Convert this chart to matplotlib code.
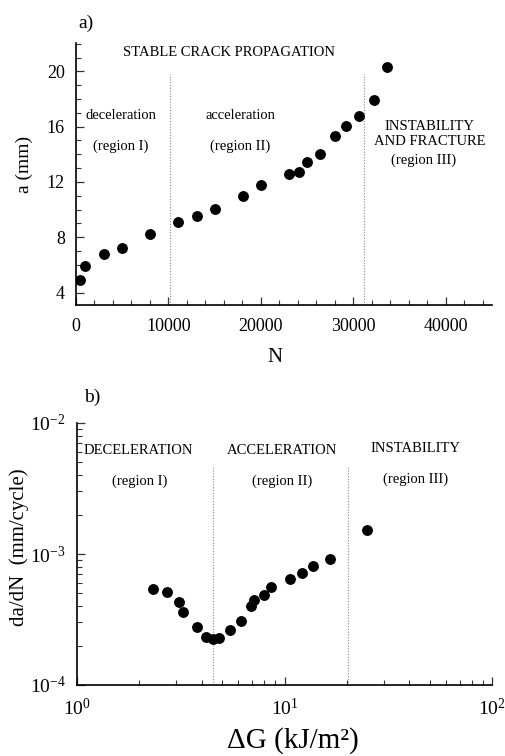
import matplotlib
matplotlib.use("Agg")
import matplotlib.pyplot as plt
from matplotlib.ticker import MultipleLocator, LogLocator, NullFormatter, FixedLocator

plt.rcParams['font.family'] = ['Liberation Serif', 'DejaVu Serif']
plt.rcParams['mathtext.fontset'] = 'custom'
plt.rcParams['mathtext.rm'] = 'Liberation Serif'
plt.rcParams['mathtext.it'] = 'Liberation Serif:italic'

# (a) crack length vs number of cycles
cycles = [435, 980, 3000, 5000, 8000, 11050, 13040, 15040, 18040, 20040,
          23000, 24170, 25000, 26380, 27970, 29170, 30620, 32250, 33660]
crack_len = [4.92, 5.89, 6.79, 7.20, 8.24, 9.07, 9.55, 10.01, 10.98, 11.78,
             12.56, 12.70, 13.45, 13.99, 15.32, 16.07, 16.80, 17.94, 20.32]
bounds_a = [10200, 31200]

# (b) crack growth rate vs energy release rate range
delta_g = [2.32, 2.72, 3.09, 3.25, 3.79, 4.20, 4.51, 4.82, 5.48, 6.17,
           6.92, 7.10, 7.94, 8.65, 10.67, 12.19, 13.7, 16.63, 24.98]
growth_rate = [5.42e-4, 5.16e-4, 4.30e-4, 3.59e-4, 2.79e-4, 2.34e-4, 2.25e-4,
               2.28e-4, 2.65e-4, 3.10e-4, 4.04e-4, 4.46e-4, 4.88e-4, 5.55e-4,
               6.43e-4, 7.10e-4, 8.12e-4, 9.19e-4, 1.52e-3]
bounds_b = [4.5, 20.2]

W, H = 505, 756
fig = plt.figure(figsize=(W / 100, H / 100), dpi=100)

def axes_px(left, top, right, bottom):
    return fig.add_axes([left / W, (H - bottom) / H, (right - left) / W, (bottom - top) / H])

ax1 = axes_px(76, 43, 492, 305)
ax2 = axes_px(77, 423, 492, 685)

for ax in (ax1, ax2):
    ax.spines['top'].set_visible(False)
    ax.spines['right'].set_visible(False)
    ax.spines['left'].set_linewidth(1.2)
    ax.spines['bottom'].set_linewidth(1.2)
    ax.tick_params(which='both', direction='in', color='#333333')
    ax.tick_params(which='major', length=6, width=0.9)
    ax.tick_params(which='minor', length=3.5, width=0.8)

# ---- panel a ----
ax1.plot(cycles, crack_len, 'o', color='black', ms=6.8, zorder=3)
ax1.set_xlim(0, 45000)
ax1.set_ylim(3.1, 22.05)
ax1.xaxis.set_major_locator(FixedLocator([0, 10000, 20000, 30000, 40000]))
ax1.xaxis.set_minor_locator(MultipleLocator(2000))
ax1.yaxis.set_major_locator(FixedLocator([4, 8, 12, 16, 20]))
ax1.yaxis.set_minor_locator(MultipleLocator(1))
ax1.tick_params(axis='x', labelsize=13, pad=9)
ax1.tick_params(axis='y', labelsize=13, pad=8)
for xb in bounds_a:
    ax1.plot([xb, xb], [3.1, 19.8], ls=(0, (1, 1.5)), color='#888888', lw=0.8)

kw = dict(ha='center', va='center', fontsize=10.5)
ax1.text(16560, 21.33, 'STABLE CRACK PROPAGATION', **kw)
ax1.text(4850, 16.8, 'deceleration', **kw)
ax1.text(4850, 14.6, '(region I)', **kw)
ax1.text(17750, 16.8, 'acceleration', **kw)
ax1.text(17750, 14.6, '(region II)', **kw)
ax1.text(38200, 16.0, 'INSTABILITY', **kw)
ax1.text(38250, 14.9, 'AND FRACTURE', **kw)
ax1.text(37600, 13.55, '(region III)', **kw)

fig.text(86 / W, 1 - 23 / H, 'a)', ha='center', va='center', fontsize=14)
fig.text(24 / W, 1 - 164 / H, 'a (mm)', rotation=90, ha='center', va='center', fontsize=14)
fig.text(275 / W, 1 - 357 / H, 'N', ha='center', va='center', fontsize=15)

# ---- panel b ----
ax2.set_xscale('log')
ax2.set_yscale('log')
ax2.plot(delta_g, growth_rate, 'o', color='black', ms=6.8, zorder=3)
ax2.set_xlim(1, 100)
ax2.set_ylim(1e-4, 1e-2)
ax2.xaxis.set_major_locator(FixedLocator([1, 10, 100]))
ax2.yaxis.set_major_locator(FixedLocator([1e-4, 1e-3, 1e-2]))
ax2.xaxis.set_minor_locator(LogLocator(base=10, subs=range(2, 10)))
ax2.yaxis.set_minor_locator(LogLocator(base=10, subs=range(2, 10)))
ax2.xaxis.set_minor_formatter(NullFormatter())
ax2.yaxis.set_minor_formatter(NullFormatter())
ax2.set_xticklabels(['10$^{0}$', '10$^{1}$', '10$^{2}$'])
ax2.set_yticklabels(['10$^{-4}$', '10$^{-3}$', '10$^{-2}$'])
ax2.tick_params(axis='x', labelsize=14, pad=9)
ax2.tick_params(axis='y', labelsize=14, pad=8)
for xb in bounds_b:
    ax2.plot([xb, xb], [1e-4, 4.7e-3], ls=(0, (1, 1.5)), color='#888888', lw=0.8)

ax2.text(1.98, 10 ** -2.209, 'DECELERATION', **kw)
ax2.text(2.0, 10 ** -2.446, '(region I)', **kw)
ax2.text(9.73, 10 ** -2.209, 'ACCELERATION', **kw)
ax2.text(9.73, 10 ** -2.446, '(region II)', **kw)
ax2.text(42.7, 10 ** -2.191, 'INSTABILITY', **kw)
ax2.text(42.7, 10 ** -2.433, '(region III)', **kw)

fig.text(92 / W, 1 - 397 / H, 'b)', ha='center', va='center', fontsize=14)
fig.text(19 / W, 1 - 547 / H, 'da/dN  (mm/cycle)', rotation=90, ha='center', va='center', fontsize=15)
fig.text(293 / W, 1 - 741 / H, 'ΔG (kJ/m²)', ha='center', va='center', fontsize=21)

fig.savefig('out.png', dpi=100)
